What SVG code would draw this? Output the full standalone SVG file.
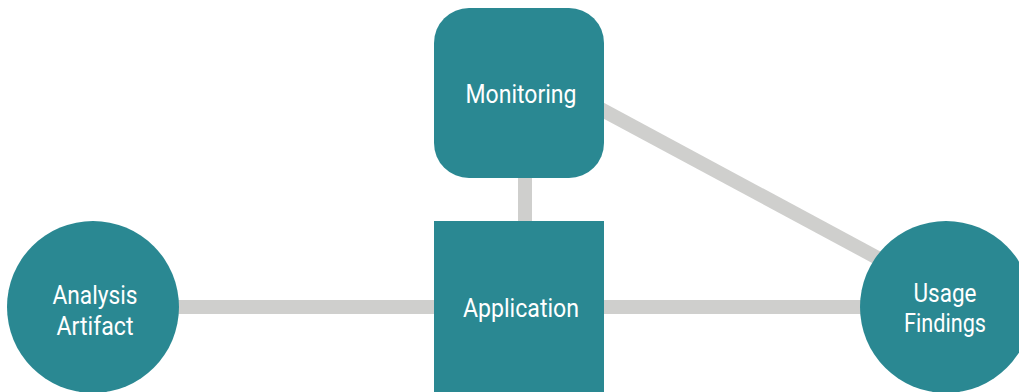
<svg xmlns="http://www.w3.org/2000/svg" width="1019" height="392" viewBox="0 0 1019 392">
<style>
.node{fill:#2a8892;}
.edge{stroke:#cfcfcd;stroke-width:14;fill:none;}
.lbl{fill:#ffffff;font-family:Roboto,"Liberation Sans",sans-serif;font-size:26px;text-anchor:middle;}
</style>
<rect width="1019" height="392" fill="#ffffff"/>
<g id="connectors">
<line class="edge" x1="525" y1="170" x2="525" y2="230"/>
<line class="edge" x1="170" y1="307" x2="440" y2="307"/>
<line class="edge" x1="600" y1="307" x2="870" y2="307"/>
<line class="edge" x1="595" y1="106" x2="900" y2="270"/>
</g>
<g id="monitoring">
<rect class="node" x="434" y="8" width="170" height="170" rx="35"/>
<text class="lbl" x="521" y="103" textLength="111" lengthAdjust="spacingAndGlyphs">Monitoring</text>
</g>
<g id="application">
<rect class="node" x="434" y="221" width="170" height="180"/>
<text class="lbl" x="521" y="317" textLength="116" lengthAdjust="spacingAndGlyphs">Application</text>
</g>
<g id="analysis-artifact">
<circle class="node" cx="93" cy="307" r="86"/>
<text class="lbl" x="95" y="304" textLength="85" lengthAdjust="spacingAndGlyphs">Analysis</text>
<text class="lbl" x="95" y="335" textLength="77" lengthAdjust="spacingAndGlyphs">Artifact</text>
</g>
<g id="usage-findings">
<circle class="node" cx="946" cy="307" r="86"/>
<text class="lbl" x="945" y="302" textLength="63" lengthAdjust="spacingAndGlyphs">Usage</text>
<text class="lbl" x="945" y="332" textLength="82" lengthAdjust="spacingAndGlyphs">Findings</text>
</g>
</svg>
